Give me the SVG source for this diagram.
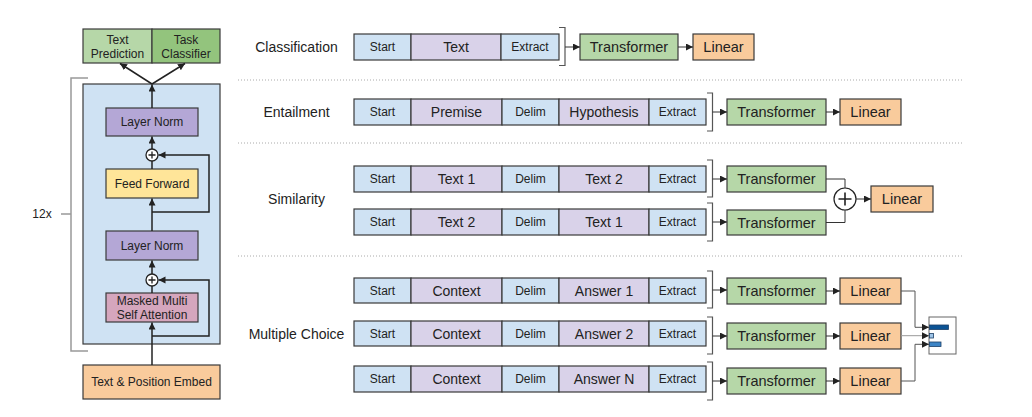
<svg xmlns="http://www.w3.org/2000/svg" width="1032" height="417" viewBox="0 0 1032 417">
<defs>
<marker id="ah" markerUnits="userSpaceOnUse" markerWidth="8" markerHeight="8" refX="7" refY="3.5" orient="auto">
<path d="M0,0 L7,3.5 L0,7 z" fill="#222"/>
</marker>
<style>
.t{font-family:"Liberation Sans",Arial,sans-serif;fill:#222;text-anchor:middle;dominant-baseline:central}
.s12{font-size:12px}
.s14{font-size:14px}
.s145{font-size:14.5px}
.bx{stroke:#3a3a3a;stroke-width:1.2}
.blue{fill:#cfe2f3}
.pur{fill:#d9d2e9}
.grn{fill:#b6d7a8}
.grn2{fill:#93c47d}
.org{fill:#f9cb9c}
.ln{fill:#b4a7d6}
.ff{fill:#ffe599}
.att{fill:#d5a6bd}
.c{fill:none;stroke:#222;stroke-width:1.5}
.ca{fill:none;stroke:#222;stroke-width:1.5;marker-end:url(#ah)}
.cs{fill:none;stroke:#333;stroke-width:1;marker-end:url(#ah)}
.br{fill:none;stroke:#555;stroke-width:1.2}
.brl{fill:none;stroke:#999;stroke-width:1.5}
.dot{stroke:#aaa;stroke-width:1;stroke-dasharray:1 2}
</style>
</defs>
<rect width="1032" height="417" fill="#fff"/>

<!-- Left: transformer architecture -->
<g id="bracket12x">
<path class="brl" d="M88,78 H71 V351 H88"/>
<line class="brl" x1="61" y1="214" x2="71" y2="214"/>
<text class="t s12" x="42" y="214">12x</text>
</g>
<g id="block"><rect class="bx blue" x="83" y="84" width="137" height="260" stroke-width="1.5"/></g>
<g id="textpred"><rect class="bx grn" x="83" y="29" width="69" height="34"/><text class="t s12" x="117.5" y="39.5">Text</text><text class="t s12" x="117.5" y="54">Prediction</text></g>
<g id="taskcls"><rect class="bx grn2" x="152" y="29" width="68" height="34"/><text class="t s12" x="186" y="39.5">Task</text><text class="t s12" x="186" y="54">Classifier</text></g>
<g id="layernorm1"><rect class="bx ln" x="106" y="108" width="92" height="28"/><text class="t s12" x="152" y="122">Layer Norm</text></g>
<g id="plus1"><circle cx="152" cy="155" r="6" fill="#fff" stroke="#222" stroke-width="1.3"/><path d="M148.5,155 H155.5 M152,151.5 V158.5" stroke="#222" stroke-width="1.3"/></g>
<g id="feedforward"><rect class="bx ff" x="106" y="169" width="92" height="29"/><text class="t s12" x="152" y="183.5">Feed Forward</text></g>
<g id="layernorm2"><rect class="bx ln" x="106" y="231" width="92" height="29"/><text class="t s12" x="152" y="245.5">Layer Norm</text></g>
<g id="plus2"><circle cx="152" cy="280" r="6" fill="#fff" stroke="#222" stroke-width="1.3"/><path d="M148.5,280 H155.5 M152,276.5 V283.5" stroke="#222" stroke-width="1.3"/></g>
<g id="attention"><rect class="bx att" x="106" y="293" width="92" height="29"/><text class="t s12" x="152" y="301">Masked Multi</text><text class="t s12" x="152" y="315">Self Attention</text></g>
<g id="embed"><rect class="bx org" x="83" y="365" width="137" height="34"/><text class="t s12" x="151.5" y="382">Text &amp; Position Embed</text></g>

<!-- Right: tasks -->
<g id="labels">
<text class="t s14" x="296.5" y="47">Classification</text>
<text class="t s14" x="296.5" y="112">Entailment</text>
<text class="t s14" x="296.5" y="199">Similarity</text>
<text class="t s14" x="296.5" y="334">Multiple Choice</text>
</g>
<g id="separators">
<line class="dot" x1="238" y1="80" x2="962" y2="80"/>
<line class="dot" x1="238" y1="143" x2="962" y2="143"/>
<line class="dot" x1="238" y1="256" x2="962" y2="256"/>
</g>

<g id="seq-classification">
<rect class="bx blue" x="354" y="34" width="57" height="26"/><text class="t s12" x="382.5" y="47">Start</text>
<rect class="bx pur" x="411" y="34" width="90" height="26"/><text class="t s14" x="456" y="47">Text</text>
<rect class="bx blue" x="501" y="34" width="58" height="26"/><text class="t s12" x="530" y="47">Extract</text>
</g>
<g id="seq-entailment">
<rect class="bx blue" x="354" y="99" width="57" height="26"/><text class="t s12" x="382.5" y="112">Start</text>
<rect class="bx pur" x="411" y="99" width="91" height="26"/><text class="t s14" x="456.5" y="112">Premise</text>
<rect class="bx blue" x="502" y="99" width="57" height="26"/><text class="t s12" x="530.5" y="112">Delim</text>
<rect class="bx pur" x="559" y="99" width="90" height="26"/><text class="t s14" x="604" y="112">Hypothesis</text>
<rect class="bx blue" x="649" y="99" width="57" height="26"/><text class="t s12" x="677.5" y="112">Extract</text>
</g>
<g id="seq-similarity-1">
<rect class="bx blue" x="354" y="166" width="57" height="26"/><text class="t s12" x="382.5" y="179">Start</text>
<rect class="bx pur" x="411" y="166" width="91" height="26"/><text class="t s14" x="456.5" y="179">Text 1</text>
<rect class="bx blue" x="502" y="166" width="57" height="26"/><text class="t s12" x="530.5" y="179">Delim</text>
<rect class="bx pur" x="559" y="166" width="90" height="26"/><text class="t s14" x="604" y="179">Text 2</text>
<rect class="bx blue" x="649" y="166" width="57" height="26"/><text class="t s12" x="677.5" y="179">Extract</text>
</g>
<g id="seq-similarity-2">
<rect class="bx blue" x="354" y="209" width="57" height="26"/><text class="t s12" x="382.5" y="222">Start</text>
<rect class="bx pur" x="411" y="209" width="91" height="26"/><text class="t s14" x="456.5" y="222">Text 2</text>
<rect class="bx blue" x="502" y="209" width="57" height="26"/><text class="t s12" x="530.5" y="222">Delim</text>
<rect class="bx pur" x="559" y="209" width="90" height="26"/><text class="t s14" x="604" y="222">Text 1</text>
<rect class="bx blue" x="649" y="209" width="57" height="26"/><text class="t s12" x="677.5" y="222">Extract</text>
</g>
<g id="seq-mc-1">
<rect class="bx blue" x="354" y="278" width="57" height="25"/><text class="t s12" x="382.5" y="290.5">Start</text>
<rect class="bx pur" x="411" y="278" width="91" height="25"/><text class="t s14" x="456.5" y="290.5">Context</text>
<rect class="bx blue" x="502" y="278" width="57" height="25"/><text class="t s12" x="530.5" y="290.5">Delim</text>
<rect class="bx pur" x="559" y="278" width="90" height="25"/><text class="t s14" x="604" y="290.5">Answer 1</text>
<rect class="bx blue" x="649" y="278" width="57" height="25"/><text class="t s12" x="677.5" y="290.5">Extract</text>
</g>
<g id="seq-mc-2">
<rect class="bx blue" x="354" y="321" width="57" height="25"/><text class="t s12" x="382.5" y="333.5">Start</text>
<rect class="bx pur" x="411" y="321" width="91" height="25"/><text class="t s14" x="456.5" y="333.5">Context</text>
<rect class="bx blue" x="502" y="321" width="57" height="25"/><text class="t s12" x="530.5" y="333.5">Delim</text>
<rect class="bx pur" x="559" y="321" width="90" height="25"/><text class="t s14" x="604" y="333.5">Answer 2</text>
<rect class="bx blue" x="649" y="321" width="57" height="25"/><text class="t s12" x="677.5" y="333.5">Extract</text>
</g>
<g id="seq-mc-3">
<rect class="bx blue" x="354" y="366" width="57" height="26"/><text class="t s12" x="382.5" y="379">Start</text>
<rect class="bx pur" x="411" y="366" width="91" height="26"/><text class="t s14" x="456.5" y="379">Context</text>
<rect class="bx blue" x="502" y="366" width="57" height="26"/><text class="t s12" x="530.5" y="379">Delim</text>
<rect class="bx pur" x="559" y="366" width="90" height="26"/><text class="t s14" x="604" y="379">Answer N</text>
<rect class="bx blue" x="649" y="366" width="57" height="26"/><text class="t s12" x="677.5" y="379">Extract</text>
</g>

<g id="tf-classification"><rect class="bx grn" x="580" y="34" width="98" height="26"/><text class="t s145" x="629" y="47">Transformer</text></g>
<g id="lin-classification"><rect class="bx org" x="693" y="34" width="61" height="26"/><text class="t s145" x="723.5" y="47">Linear</text></g>
<g id="tf-entailment"><rect class="bx grn" x="727" y="99" width="99" height="26"/><text class="t s145" x="776.5" y="112">Transformer</text></g>
<g id="lin-entailment"><rect class="bx org" x="840" y="99" width="61" height="26"/><text class="t s145" x="870.5" y="112">Linear</text></g>
<g id="tf-sim-1"><rect class="bx grn" x="727" y="166" width="99" height="26"/><text class="t s145" x="776.5" y="179">Transformer</text></g>
<g id="tf-sim-2"><rect class="bx grn" x="727" y="210" width="99" height="25"/><text class="t s145" x="776.5" y="222.5">Transformer</text></g>
<g id="sum-sim"><circle cx="845" cy="199" r="11" fill="#fff" stroke="#222" stroke-width="1.2"/><path d="M838.5,199 H851.5 M845,192.5 V205.5" stroke="#222" stroke-width="1.6"/></g>
<g id="lin-sim"><rect class="bx org" x="871" y="186" width="62" height="26"/><text class="t s145" x="902" y="199">Linear</text></g>
<g id="tf-mc-1"><rect class="bx grn" x="727" y="278" width="99" height="26"/><text class="t s145" x="776.5" y="291">Transformer</text></g>
<g id="lin-mc-1"><rect class="bx org" x="840" y="278" width="61" height="26"/><text class="t s145" x="870.5" y="291">Linear</text></g>
<g id="tf-mc-2"><rect class="bx grn" x="727" y="323" width="99" height="26"/><text class="t s145" x="776.5" y="336">Transformer</text></g>
<g id="lin-mc-2"><rect class="bx org" x="840" y="323" width="61" height="26"/><text class="t s145" x="870.5" y="336">Linear</text></g>
<g id="tf-mc-3"><rect class="bx grn" x="727" y="368" width="99" height="26"/><text class="t s145" x="776.5" y="381">Transformer</text></g>
<g id="lin-mc-3"><rect class="bx org" x="840" y="368" width="61" height="26"/><text class="t s145" x="870.5" y="381">Linear</text></g>
<g id="mc-output">
<rect x="929" y="317" width="27" height="37" fill="#fff" stroke="#666" stroke-width="1"/>
<rect x="929.5" y="325" width="19" height="4.5" fill="#0b5394" stroke="#1c3f66" stroke-width="0.8"/>
<rect x="929.5" y="333.5" width="4" height="4.5" fill="#9fc5e8" stroke="#1c3f66" stroke-width="0.8"/>
<rect x="929.5" y="342" width="11.5" height="4.5" fill="#3d85c6" stroke="#1c3f66" stroke-width="0.8"/>
</g>

<g id="connectors">
<!-- left -->
<path class="ca" d="M152,365 V322.5"/>
<path class="ca" d="M152,336 H209 V280 H158.5"/>
<path class="c" d="M152,293 V286"/>
<path class="ca" d="M152,274 V260.5"/>
<path class="ca" d="M152,231 V198.5"/>
<path class="ca" d="M152,212 H209 V155 H158.5"/>
<path class="c" d="M152,169 V161"/>
<path class="ca" d="M152,149 V136.5"/>
<path class="ca" d="M152,108 V84.5"/>
<path class="ca" d="M152,84 L120,63.5"/>
<path class="ca" d="M152,84 L185,63.5"/>
<!-- brackets -->
<path class="br" d="M559,27.5 H565 V65.5 H559"/>
<path class="br" d="M707,93 H712.5 V131 H707"/>
<path class="br" d="M707,160 H712.5 V197 H707"/>
<path class="br" d="M707,203 H712.5 V241 H707"/>
<path class="br" d="M707,271 H712.5 V308 H707"/>
<path class="br" d="M707,317 H712.5 V354 H707"/>
<path class="br" d="M707,362 H712.5 V400 H707"/>
<!-- task arrows -->
<path class="cs" d="M565,47 H580"/>
<path class="cs" d="M678,47 H693"/>
<path class="cs" d="M712.5,112 H727"/>
<path class="cs" d="M826,112 H840"/>
<path class="cs" d="M712.5,179 H727"/>
<path class="cs" d="M712.5,222 H727"/>
<path fill="none" stroke="#333" stroke-width="1" d="M826,179 H845 V188"/>
<path fill="none" stroke="#333" stroke-width="1" d="M826,222.5 H845 V210"/>
<path class="cs" d="M856,199 H871"/>
<path class="cs" d="M712.5,290 H727"/>
<path class="cs" d="M826,291 H840"/>
<path class="cs" d="M712.5,336 H727"/>
<path class="cs" d="M826,336 H840"/>
<path class="cs" d="M712.5,381 H727"/>
<path class="cs" d="M826,381 H840"/>
<path fill="none" stroke="#555" stroke-width="1" marker-end="url(#ah)" d="M901,291 H915 V327.3 H929"/>
<path fill="none" stroke="#999" stroke-width="1" marker-end="url(#ah)" d="M901,335.7 H929"/>
<path fill="none" stroke="#555" stroke-width="1" marker-end="url(#ah)" d="M901,381 H915 V344.3 H929"/>
</g>
</svg>
